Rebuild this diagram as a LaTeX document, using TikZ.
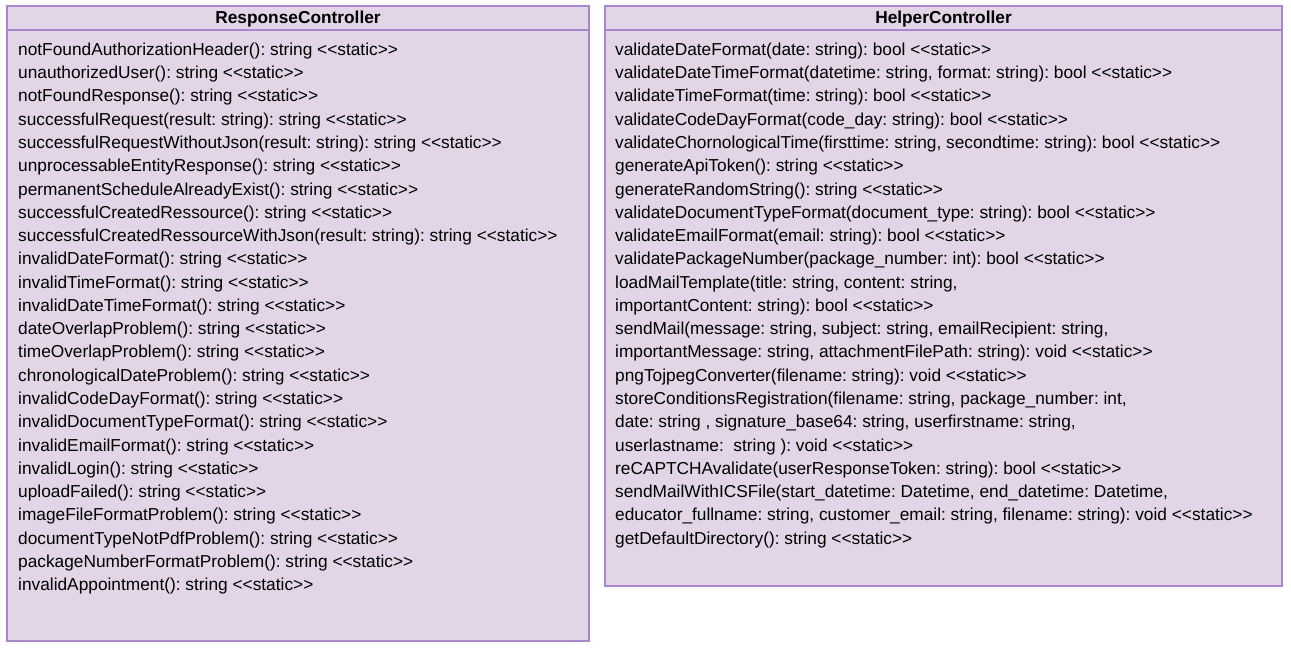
\documentclass[tikz,border=0pt]{standalone}
\usepackage{fontspec}
\setmainfont{Liberation Sans}[Ligatures=TeXOff]
\definecolor{umlfill}{HTML}{E1D5E7}
\definecolor{umlborder}{RGB}{170,135,205}
\newcommand{\stc}{<<static>>}
\frenchspacing
\begin{document}
\frenchspacing
\begin{tikzpicture}[x=1pt,y=-1pt,
  classbox/.style={draw=umlborder, fill=umlfill, line width=1.4pt, anchor=north west, inner sep=0pt, outer sep=0pt},
  sepline/.style={draw=umlborder, line width=1.4pt},
  classtitle/.style={font=\bfseries\fontsize{17.3}{20}\selectfont, inner sep=0pt},
  members/.style={anchor=north west, align=left, inner sep=0pt, font=\fontsize{17.3}{23.28}\selectfont\frenchspacing}]
\useasboundingbox (0,0) rectangle (1291,648);
% ResponseController
\node[classbox, minimum width=582pt, minimum height=635pt] (rc) at (7,6) {};
\draw[sepline] ([yshift=-24pt]rc.north west) -- ([yshift=-24pt]rc.north east);
\node[classtitle] (rct) at ([yshift=-12.8pt]rc.north) {ResponseController};
\node[members] (rcm) at ([xshift=11pt,yshift=-36.6pt]rc.north west) {%
notFoundAuthorizationHeader(): string \stc\\
unauthorizedUser(): string \stc\\
notFoundResponse(): string \stc\\
successfulRequest(result: string): string \stc\\
successfulRequestWithoutJson(result: string): string \stc\\
unprocessableEntityResponse(): string \stc\\
permanentScheduleAlreadyExist(): string \stc\\
successfulCreatedRessource(): string \stc\\
successfulCreatedRessourceWithJson(result: string): string \stc\\
invalidDateFormat(): string \stc\\
invalidTimeFormat(): string \stc\\
invalidDateTimeFormat(): string \stc\\
dateOverlapProblem(): string \stc\\
timeOverlapProblem(): string \stc\\
chronologicalDateProblem(): string \stc\\
invalidCodeDayFormat(): string \stc\\
invalidDocumentTypeFormat(): string \stc\\
invalidEmailFormat(): string \stc\\
invalidLogin(): string \stc\\
uploadFailed(): string \stc\\
imageFileFormatProblem(): string \stc\\
documentTypeNotPdfProblem(): string \stc\\
packageNumberFormatProblem(): string \stc\\
invalidAppointment(): string \stc};
% HelperController
\node[classbox, minimum width=677pt, minimum height=580pt] (hc) at (605,6) {};
\draw[sepline] ([yshift=-24pt]hc.north west) -- ([yshift=-24pt]hc.north east);
\node[classtitle] (hct) at ([yshift=-12.8pt]hc.north) {HelperController};
\node[members] (hcm) at ([xshift=10pt,yshift=-36.6pt]hc.north west) {%
validateDateFormat(date: string): bool \stc\\
validateDateTimeFormat(datetime: string, format: string): bool \stc\\
validateTimeFormat(time: string): bool \stc\\
validateCodeDayFormat(code\_day: string): bool \stc\\
validateChornologicalTime(firsttime: string, secondtime: string): bool \stc\\
generateApiToken(): string \stc\\
generateRandomString(): string \stc\\
validateDocumentTypeFormat(document\_type: string): bool \stc\\
validateEmailFormat(email: string): bool \stc\\
validatePackageNumber(package\_number: int): bool \stc\\
loadMailTemplate(title: string, content: string,\\
importantContent: string): bool \stc\\
sendMail(message: string, subject: string, emailRecipient: string,\\
importantMessage: string, attachmentFilePath: string): void \stc\\
pngTojpegConverter(filename: string): void \stc\\
storeConditionsRegistration(filename: string, package\_number: int,\\
date: string , signature\_base64: string, userfirstname: string,\\
userlastname:\ \ string ): void \stc\\
reCAPTCHAvalidate(userResponseToken: string): bool \stc\\
sendMailWithICSFile(start\_datetime: Datetime, end\_datetime: Datetime,\\
educator\_fullname: string, customer\_email: string, filename: string): void \stc\\
getDefaultDirectory(): string \stc};
\end{tikzpicture}
\end{document}
